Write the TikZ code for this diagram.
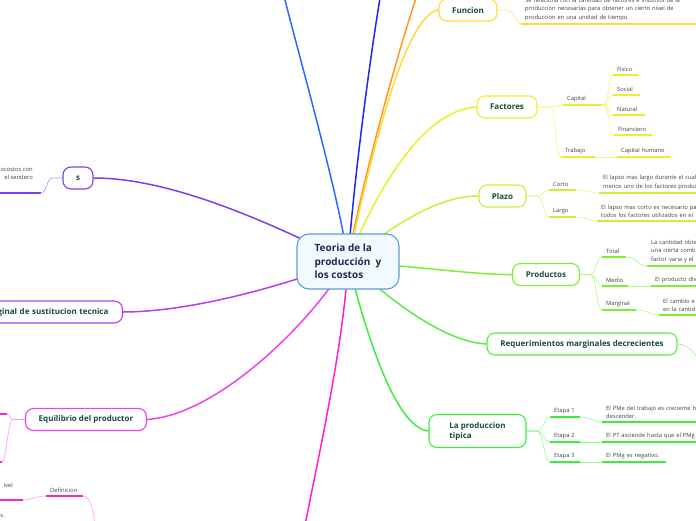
\documentclass[tikz,border=0pt]{standalone}
\usepackage{fontspec}
\setmainfont{Open Sans}
\usetikzlibrary{backgrounds}

\definecolor{rootfill}{HTML}{F2F9FF}
\definecolor{rootline}{HTML}{5A9BD8}
\definecolor{roottext}{HTML}{1B2A52}
\definecolor{topictext}{HTML}{174A3A}
\definecolor{leaftext}{HTML}{404040}
\definecolor{blueA}{HTML}{3068FF}
\definecolor{blueB}{HTML}{2424EE}
\definecolor{orangeA}{HTML}{FF9A1A}
\definecolor{funcY}{HTML}{FFD93A}
\definecolor{factY}{HTML}{E8F02A}
\definecolor{plazoG}{HTML}{C6F03C}
\definecolor{prodG}{HTML}{80EE30}
\definecolor{reqG}{HTML}{55EE44}
\definecolor{tipG}{HTML}{3CEE3C}
\definecolor{magA}{HTML}{FF20C8}
\definecolor{equiM}{HTML}{EE40EE}
\definecolor{tmstP}{HTML}{B040F0}
\definecolor{sP}{HTML}{7A40F0}

\begin{document}
\begin{tikzpicture}[x=1pt, y=-1pt,
    topic/.style={draw, rounded corners=8pt, line width=1.1pt, fill=white,
      text=topictext, font=\bfseries\fontsize{8}{10}\selectfont,
      minimum height=22pt, inner xsep=6pt},
    leaf/.style={anchor=south west, align=left, inner xsep=4pt, inner ysep=3pt,
      text=leaftext, font=\fontsize{5.8}{8.6}\selectfont},
    frag/.style={inner sep=0pt, text=leaftext, font=\fontsize{5.8}{8.6}\selectfont},
    branch/.style={line width=1.5pt},
    uline/.style={line width=1.5pt},
    conn/.style={line width=0.6pt}]
\useasboundingbox (0,0) rectangle (696,520);

\node[draw=rootline, fill=rootfill, line width=1.1pt, rounded corners=12pt,
  minimum width=102pt, minimum height=55pt, align=left, text=roottext,
  font=\bfseries\fontsize{10}{13.5}\selectfont] (root) at (348,261.5)
  {Teoria de la\\producción\ \ y\\los costos};

\node[topic, draw=funcY, minimum width=58pt] (funcion) at (468,10) {Funcion};
\node[topic, draw=factY, minimum width=60pt] (factores) at (507,107) {Factores};
\node[topic, draw=plazoG, minimum width=47pt] (plazo) at (502.5,196) {Plazo};
\node[topic, draw=prodG, minimum width=67pt] (productos) at (546,274.5) {Productos};
\node[topic, draw=reqG, minimum width=190pt] (req) at (582,344) {Requerimientos marginales decrecientes};
\node[topic, draw=tipG, minimum width=97pt, minimum height=33pt, align=left] (tipica) at (477.5,431) {La produccion\\tipica};
\node[topic, draw=equiM, minimum width=121pt] (equilibrio) at (86,419.5) {Equilibrio del productor};
\node[topic, draw=tmstP, anchor=east, text width=130pt, align=right, inner xsep=14pt] (tmst) at (123,312) {ginal de sustitucion tecnica};
\node[topic, draw=sP, minimum width=30pt] (stopic) at (78,178) {s};

\node[leaf, text width=170pt] (funciond) at (521,24) {Se relaciona con la cantidad de factores e insumos de la\\produccion necesarias para obtener un cierto nivel de\\produccion en una unidad de tiempo.};

\node[leaf, text width=31pt] (capital) at (563,105) {Capital};
\node[leaf, text width=26pt] (trabajo) at (561,157) {Trabajo};
\node[leaf, text width=46pt] (caphum) at (617,157) {Capital humano};
\node[leaf, text width=18pt] (fisico) at (613,75) {Fisico};
\node[leaf, text width=19pt] (social) at (613,95) {Social};
\node[leaf, text width=24pt] (natural) at (613,115) {Natural};
\node[leaf, text width=30pt] (financiero) at (614,135) {Financiero};

\node[leaf, text width=19pt] (corto) at (549,190) {Corto};
\node[leaf, text width=19pt] (largo) at (549,217) {Largo};
\node[leaf, text width=120pt] (cortod) at (599,193) {El lapso mas largo durante el cual\\menos uno de los factores produc};
\node[leaf, text width=120pt] (largod) at (597,221) {El lapso mas corto es necesario pa\\todos los factores utilizados en el};

\node[leaf, text width=16pt] (total) at (602,257) {Total};
\node[leaf, text width=18pt] (medio) at (602,286) {Medio};
\node[leaf, text width=26pt] (marginal) at (602,310) {Marginal};
\node[leaf, text width=80pt] (totald) at (647,266) {La cantidad obte\\una cierta comb\\factor varia y el};
\node[leaf, text width=80pt] (mediod) at (651,286) {El producto div};
\node[leaf, text width=80pt] (marginald) at (659,315) {El cambio e\\en la cantid};

\node[leaf, text width=22pt] (etapa1) at (550,417) {Etapa 1};
\node[leaf, text width=22pt] (etapa2) at (550,442) {Etapa 2};
\node[leaf, text width=22pt] (etapa3) at (550,462) {Etapa 3};
\node[leaf, text width=120pt] (etapa1d) at (602,422) {El PMe del trabajo es creciente h\\descender.};
\node[leaf, text width=120pt] (etapa2d) at (602,442) {El PT asciende hasta que el PMg};
\node[leaf, text width=56pt] (etapa3d) at (602,462) {El PMg es negativo.};

\node[frag, anchor=east, align=right] (sdesc) at (33,173.5) {ocostos con\\el sendero};
\node[leaf, text width=29pt] (definicion) at (46,496) {Definicion};
\node[frag, anchor=east] (defa) at (13,485) {ivel};
\node[frag, anchor=east] (defb) at (5,516) {s.};

\coordinate (sdescu) at (41,193);
\coordinate (equi1) at (7,414);
\coordinate (equi2) at (2,462);
\coordinate (defau) at (23,500);
\coordinate (defpar) at (95,532);
\coordinate (reqout) at (703,368);
\coordinate (blueAend) at (283,-8);
\coordinate (blueBend) at (381,-8);
\coordinate (orangeend) at (418,-8);
\coordinate (magend) at (304,530);

\begin{scope}[on background layer]
  \draw[branch, blueA] (root.center) .. controls (340,200) and (300,60) .. (blueAend);
  \draw[branch, blueB] (root.center) .. controls (353,190) and (368,70) .. (blueBend);
  \draw[branch, orangeA] (root.center) .. controls (358,200) and (392,70) .. (orangeend);
  \draw[branch, funcY] (root.center) .. controls (362,200) and (400,15) .. (funcion.west);
  \draw[branch, factY] (root.center) .. controls (372,200) and (420,110) .. (factores.west);
  \draw[branch, plazoG] (root.center) .. controls (405,215) and (445,196) .. (plazo.west);
  \draw[branch, prodG] (root.center) .. controls (430,268) and (480,275) .. (productos.west);
  \draw[branch, reqG] (root.center) .. controls (392,302) and (445,342) .. (req.west);
  \draw[branch, tipG] (root.center) .. controls (365,330) and (395,428) .. (tipica.west);
  \draw[branch, magA] (root.center) .. controls (344,340) and (322,440) .. (magend);
  \draw[branch, equiM] (root.center) .. controls (305,330) and (215,415) .. (equilibrio.east);
  \draw[branch, tmstP] (root.center) .. controls (255,296) and (175,312) .. (tmst.east);
  \draw[branch, sP] (root.center) .. controls (255,215) and (165,178) .. (stopic.east);
\end{scope}

\draw[uline, funcY] (funciond.south west) -- (funciond.south east);
\draw[conn, funcY!70] (funcion.east) -- ++(10,0) .. controls +(6,0) and +(-4,0) .. (funciond.south west);

\foreach \n in {capital,trabajo,caphum,fisico,social,natural,financiero}
  \draw[uline, factY] (\n.south west) -- (\n.south east);
\foreach \n in {capital,trabajo}
  \draw[conn, factY!60] (factores.east) -- ++(12,0) .. controls +(7,0) and +(-6,0) .. (\n.south west);
\foreach \n in {fisico,social,natural,financiero}
  \draw[conn, factY!60] (capital.south east) .. controls +(8,0) and +(-6,0) .. (\n.south west);
\draw[conn, factY!60] (trabajo.south east) -- (caphum.south west);

\foreach \n in {corto,largo,cortod,largod}
  \draw[uline, plazoG] (\n.south west) -- (\n.south east);
\foreach \n in {corto,largo}
  \draw[conn, plazoG!60] (plazo.east) -- ++(10,0) .. controls +(7,0) and +(-6,0) .. (\n.south west);
\draw[conn, plazoG!60] (corto.south east) .. controls +(12,0) and +(-10,0) .. (cortod.south west);
\draw[conn, plazoG!60] (largo.south east) .. controls +(12,0) and +(-10,0) .. (largod.south west);

\foreach \n in {total,medio,marginal,totald,mediod,marginald}
  \draw[uline, prodG] (\n.south west) -- (\n.south east);
\foreach \n in {total,medio,marginal}
  \draw[conn, prodG!60] (productos.east) -- ++(10,0) .. controls +(7,0) and +(-6,0) .. (\n.south west);
\draw[conn, prodG!60] (total.south east) .. controls +(12,0) and +(-10,0) .. (totald.south west);
\draw[conn, prodG!60] (medio.south east) -- (mediod.south west);
\draw[conn, prodG!60] (marginal.south east) .. controls +(12,0) and +(-10,0) .. (marginald.south west);

\draw[conn, reqG!60] (req.east) .. controls +(12,0) and +(-4,-10) .. (reqout);

\foreach \n in {etapa1,etapa2,etapa3,etapa1d,etapa2d,etapa3d}
  \draw[uline, tipG] (\n.south west) -- (\n.south east);
\foreach \n in {etapa1,etapa2,etapa3}
  \draw[conn, tipG!55] (tipica.east) -- ++(10,0) .. controls +(7,0) and +(-6,0) .. (\n.south west);
\draw[conn, tipG!55] (etapa1.south east) .. controls +(12,0) and +(-10,0) .. (etapa1d.south west);
\draw[conn, tipG!55] (etapa2.south east) -- (etapa2d.south west);
\draw[conn, tipG!55] (etapa3.south east) -- (etapa3d.south west);

\draw[uline, sP] (sdescu) -- ++(-45,0);
\draw[conn, sP!60] (stopic.west) -- ++(-10,0) .. controls +(-6,0) and +(6,0) .. (sdescu);

\draw[uline, magA] (equi1) -- ++(-20,0);
\draw[uline, magA] (equi2) -- ++(-20,0);
\draw[conn, equiM!55] (equilibrio.west) -- ++(-12,0) .. controls +(-5,0) and +(4,0) .. (equi1);
\draw[conn, equiM!55] (equilibrio.west) -- ++(-12,0) .. controls +(-5,0) and +(4,0) .. (equi2);

\draw[uline, magA] (definicion.south west) -- (definicion.south east);
\draw[uline, magA] (defau) -- ++(-30,0);
\draw[conn, magA!45] (definicion.south west) .. controls +(-10,0) and +(8,0) .. (defau);
\draw[conn, magA!45] (definicion.south east) .. controls +(8,0) and +(0,-15) .. (defpar);
\end{tikzpicture}
\end{document}
